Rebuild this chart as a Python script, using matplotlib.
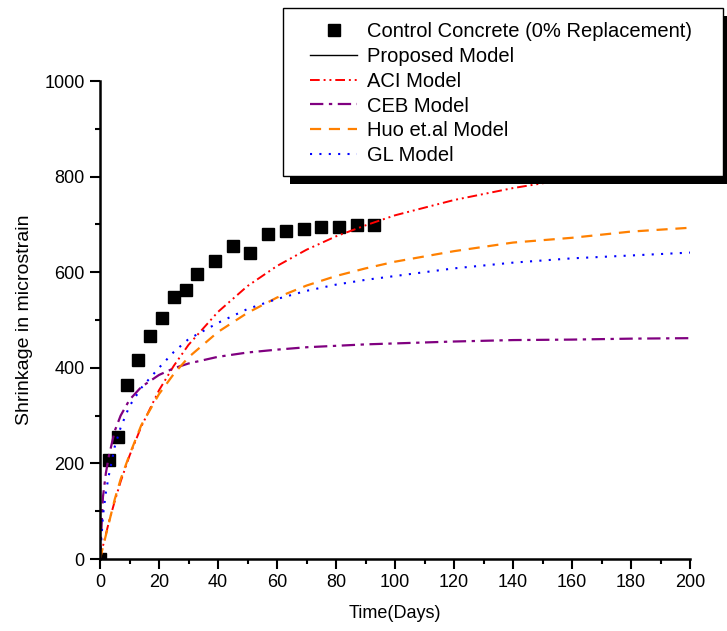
import numpy as np
import matplotlib
matplotlib.use("Agg")
import matplotlib.pyplot as plt
from matplotlib.patches import Rectangle
from matplotlib.ticker import MultipleLocator

plt.rcParams['font.family'] = ['Liberation Sans', 'DejaVu Sans']

# measured shrinkage, control concrete
t_exp = [0, 3, 6, 9, 13, 17, 21, 25, 29, 33, 39, 45, 51, 57, 63, 69, 75, 81, 87, 93]
s_exp = [0, 207, 255, 364, 416, 467, 504, 548, 563, 596, 623, 655, 640, 680, 686, 690, 695, 695, 699, 699]

# model curves
t_mod = [0, 1, 2, 3, 5, 7, 10, 14, 20, 25, 30, 40, 50, 60, 70, 80, 90, 100, 120, 140, 160, 180, 200]
aci = [0, 27, 52, 77, 121, 162, 216, 277, 353, 404, 448, 517, 571, 613, 647, 675, 698, 719, 751, 776, 796, 812, 826]
ceb = [0, 130, 180, 215, 268, 300, 333, 360, 385, 399, 409, 423, 432, 438, 443, 446, 449, 451, 455, 458, 459, 461, 462]
huo = [0, 25, 50, 75, 125, 167, 218, 280, 345, 387, 422, 475, 515, 547, 572, 592, 608, 622, 644, 662, 672, 685, 693]
gl = [0, 90, 140, 175, 235, 275, 320, 358, 400, 433, 460, 494, 523, 544, 561, 574, 584, 592, 608, 620, 629, 635, 641]
proposed_t = []
proposed = []

W, H = 727, 631
fig = plt.figure(figsize=(W / 100, H / 100), dpi=100)
ax = fig.add_axes([100 / W, (H - 559) / H, 590 / W, 478 / H])

ax.plot(t_exp, s_exp, "s", color="black", markersize=8, label="Control Concrete (0% Replacement)")
ax.plot(proposed_t, proposed, "-", color="black", lw=1, label="Proposed Model")
ax.plot(t_mod, aci, color="#ff0000", lw=1.4, dashes=(5, 2, 1, 2, 1, 2), label="ACI Model")
ax.plot(t_mod, ceb, color="#800080", lw=1.6, dashes=(6, 2.5, 1.5, 2.5), label="CEB Model")
ax.plot(t_mod, huo, color="#ff8000", lw=1.6, dashes=(5, 3.5), label="Huo et.al Model")
ax.plot(t_mod, gl, color="#0000ff", lw=1.5, dashes=(1, 3.5), label="GL Model")

ax.set_xlim(0, 200)
ax.set_ylim(0, 1000)
ax.xaxis.set_major_locator(MultipleLocator(20))
ax.xaxis.set_minor_locator(MultipleLocator(10))
ax.yaxis.set_major_locator(MultipleLocator(200))
ax.yaxis.set_minor_locator(MultipleLocator(100))
ax.spines["top"].set_visible(False)
ax.spines["right"].set_visible(False)
ax.spines["left"].set_linewidth(1.8)
ax.spines["bottom"].set_linewidth(1.8)
ax.tick_params(which="major", direction="out", length=7, width=1.5, labelsize=13, pad=4)
ax.tick_params(which="minor", direction="out", length=3.6, width=1.5)
ax.set_xlabel("Time(Days)", fontsize=13, labelpad=10)
ax.set_ylabel("Shrinkage in microstrain", fontsize=14, labelpad=8)

# legend frame with hard shadow
fig.patches.append(Rectangle(((283 + 7) / W, 1 - (176 + 8) / H), 440 / W, 168 / H,
                             transform=fig.transFigure, facecolor="black", edgecolor="none", zorder=4))
fig.patches.append(Rectangle((283 / W, 1 - 176 / H), 440 / W, 168 / H,
                             transform=fig.transFigure, facecolor="white", edgecolor="black", lw=1, zorder=4.5))

leg = fig.legend(loc="upper left", bbox_to_anchor=(310 / W, 1 - 22 / H), frameon=False,
                 fontsize=14.5, borderpad=0, borderaxespad=0, handlelength=2.35,
                 handletextpad=0.5, labelspacing=0.29)
leg.set_zorder(5)

fig.savefig("out.png", dpi=100)
